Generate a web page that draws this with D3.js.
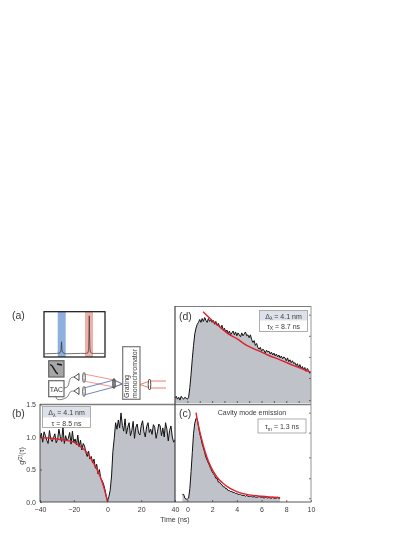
<!DOCTYPE html>
<html>
<head>
<meta charset="utf-8">
<script src="https://cdn.jsdelivr.net/npm/d3@7"></script>
<style>
  html, body { margin: 0; padding: 0; background: #fff; }
  svg { display: block; filter: blur(0.35px); }
  text { font-family: "Liberation Sans", Arial, sans-serif; fill: #3a3a3a; }
</style>
</head>
<body>
<div id="chart"></div>
<script>
/* main.js */

const width = 415;
const height = 537;

// Panel (b): g2 values every 0.8 ns from -40 ns
const bStep = 0.8;
const bValues = [
  .99,1.06,.92,1.08,1.02,.95,.90,1.10,.97,.93,.99,1.05,.91,.96,1.12,1.01,.93,1.16,.90,1.02,
  .94,.98,1.07,.89,1.09,.92,.97,.88,1.03,.85,.95,.80,.90,.86,.76,.70,.78,.66,.70,.60,
  .66,.52,.58,.43,.50,.36,.33,.28,.20,.10,.02,
  .08,.18,.40,.78,.98,1.22,1.12,1.26,1.14,1.37,1.18,1.09,1.28,1.05,1.15,1.22,1.02,1.10,1.24,.98,
  1.15,1.20,1.06,1.03,1.18,1.25,1.08,1.00,1.16,1.22,1.07,1.12,1.04,1.19,1.15,.98,1.08,1.20,1.17,1.02,
  1.14,1.00,1.22,1.12,.94,1.10,1.17,1.00,.92,.96
];
const bFitTime = [-40,-35,-30,-25,-20,-16,-12,-9,-6,-4,-2,-1,0];
const bFitValues = [.99,.985,.97,.95,.92,.85,.76,.63,.49,.37,.21,.11,0];
const bTicks = [-40,-20,0,20,40];
const bYTicks = [0,0.5,1,1.5];

// Panel (d): normalised counts every 0.1 ns from -1 ns
const dStep = 0.1;
const dValues = [
  .05,.07,.04,.06,.03,.07,.05,.04,.06,.05,.04,.06,
  .16,.30,.46,.60,.72,.78,.82,.84,
  .87,.84,.88,.85,.89,.86,.84,.88,.85,.87,.84,.86,.82,.85,.81,.83,.80,.78,.81,.76,
  .78,.74,.76,.72,.75,.71,.73,.75,.71,.74,.70,.73,.71,.69,.73,.70,.72,.74,.70,.71,
  .68,.71,.66,.63,.65,.60,.62,.58,.56,.58,.54,.56,.55,.52,.55,.53,.54,.51,.53,.50,
  .52,.49,.51,.48,.50,.47,.49,.46,.48,.47,.44,.47,.43,.45,.42,.44,.41,.42,.39,.41,
  .37,.40,.36,.38,.35,.37,.33,.36,.34,.31,.33
];
const dFitTime = [1.27,2.0,2.64,3.3,4.0,4.8,5.63,6.5,7.5,8.6,10];
const dFitValues = [.95,.86,.79,.72,.67,.60,.55,.50,.45,.39,.32];
const dRightTicks = [.03,.26,.48,.7,.92];

// Panel (c): normalised counts every 0.1 ns from -0.4 ns
const cStep = 0.1;
const cValues = [
  .08,.08,.04,.03,.03,.04,.14,.32,.52,.72,.83,.88,.87,.80,.72,.67,.61,.57,.52,.47,
  .44,.41,.38,.35,.32,.30,.28,.25,.25,.21,.21,.19,.18,.16,.16,.14,.14,.12,.12,.11,
  .11,.10,.10,.09,.09,.08,.08,.08,.07,.07,.07,.06,.07,.06,.06,.06,.06,.05,.06,.05,
  .05,.05,.06,.05,.05,.05,.04,.05,.05,.04,.05,.04,.04,.05,.04,.04,.04,.05,.04,.04
];
const cFitTime = [.7,.9,1.1,1.3,1.57,1.9,2.37,2.9,3.45,4,4.8,6,7.5];
const cFitValues = [.94,.80,.69,.59,.477,.37,.266,.195,.144,.11,.08,.06,.045];
const cRightTicks = [.04,.25,.47,.73,.94];
const rightTicks = [0,2,4,6,8,10];
const rightMinorTicks = [0,1,2,3,4,5,6,7,8,9];

// Panel (a): inset spectrum
const specX = [0,20,25,27,28,29,31,35,60,70,73,74,75,76,77,80,100];
const specY = [.03,.04,.05,.10,.33,.10,.05,.03,.04,.04,.06,.15,.98,.20,.07,.04,.04];

const fillGray = "#bfc3c9";
const redLine = "#e0202c";

const svg = d3.select("#chart").append("svg")
  .attr("width", width)
  .attr("height", height);

/************************************************
 * Scales                                       *
 ************************************************/
const xB = d3.scaleLinear().domain([-40, 40]).range([40, 175]);
const yB = d3.scaleLinear().domain([0, 1.5]).range([502, 404.5]);
const xR = d3.scaleLinear().domain([-1, 10]).range([175, 311]);
const yD = d3.scaleLinear().domain([0, 1]).range([403, 307]);
const yC = d3.scaleLinear().domain([0, 1]).range([502, 407]);

function clipFor(id, x, y, w, h) {
  svg.append("clipPath").attr("id", id)
    .append("rect").attr("x", x).attr("y", y).attr("width", w).attr("height", h);
}
clipFor("clipB", 40, 404, 135, 98);
clipFor("clipD", 175, 306, 136, 97);
clipFor("clipC", 175, 404, 136, 98);

/************************************************
 * Draw one trace with its fill and its fit     *
 ************************************************/
function drawTrace(clipId, x, y, t0, step, values, fitTime, fitValues) {
  const pts = values.map((v, i) => [t0 + i * step, v]);
  const g = svg.append("g").attr("clip-path", `url(#${clipId})`);

  const area = d3.area().x(d => x(d[0])).y0(y(0)).y1(d => y(d[1]));
  const line = d3.line().x(d => x(d[0])).y(d => y(d[1]));

  g.append("path").attr("d", area(pts)).attr("fill", fillGray);
  g.append("path").attr("d", line(pts))
    .attr("fill", "none").attr("stroke", "#111").attr("stroke-width", 1);

  const fit = d3.line().curve(d3.curveMonotoneX).x((d, i) => x(fitTime[i])).y(d => y(d));
  g.append("path").attr("d", fit(fitValues))
    .attr("fill", "none").attr("stroke", redLine).attr("stroke-width", 1.4);
}

drawTrace("clipB", xB, yB, -40, bStep, bValues, bFitTime, bFitValues);
drawTrace("clipD", xR, yD, -1, dStep, dValues, dFitTime, dFitValues);
drawTrace("clipC", xR, yC, -0.4, cStep, cValues, cFitTime, cFitValues);

/************************************************
 * Axes                                         *
 ************************************************/
function styleAxis(g) {
  g.select(".domain").remove();
  g.selectAll("line").attr("stroke", "#333").attr("stroke-width", 0.7);
  g.selectAll("text").style("font-size", "7px").attr("fill", "#444");
}

svg.append("g").attr("transform", "translate(0,502)")
  .call(d3.axisBottom(xB).tickValues(bTicks).tickSizeInner(-2).tickSizeOuter(0).tickPadding(5))
  .call(styleAxis);

svg.append("g").attr("transform", "translate(40,0)")
  .call(d3.axisLeft(yB).tickValues(bYTicks).tickFormat(d3.format(".1f")).tickSizeInner(-2).tickSizeOuter(0).tickPadding(4))
  .call(styleAxis);

svg.append("g").attr("transform", "translate(0,502)")
  .call(d3.axisBottom(xR).tickValues(rightTicks).tickSizeInner(-2).tickSizeOuter(0).tickPadding(5))
  .call(styleAxis);

svg.append("g").attr("transform", "translate(0,403)")
  .call(d3.axisBottom(xR).tickValues(rightMinorTicks).tickFormat("").tickSizeInner(-2).tickSizeOuter(0))
  .call(styleAxis);

svg.append("g").attr("transform", "translate(311,0)")
  .call(d3.axisRight(yD).tickValues(dRightTicks).tickFormat("").tickSizeInner(-2).tickSizeOuter(0))
  .call(styleAxis);

svg.append("g").attr("transform", "translate(311,0)")
  .call(d3.axisRight(yC).tickValues(cRightTicks).tickFormat("").tickSizeInner(-2).tickSizeOuter(0))
  .call(styleAxis);

/************************************************
 * Frames                                       *
 ************************************************/
function rule(x1, y1, x2, y2, color, w) {
  svg.append("line").attr("x1", x1).attr("y1", y1).attr("x2", x2).attr("y2", y2)
    .attr("stroke", color).attr("stroke-width", w);
}
rule(40, 404.5, 311, 404.5, "#7d7d7d", 1.6);
rule(175, 306.5, 311, 306.5, "#7d7d7d", 1.2);
rule(311, 306, 311, 502, "#8a8a8a", 0.9);
rule(175, 306, 175, 502, "#444", 1.2);
rule(40, 404, 40, 502, "#444", 0.9);
rule(40, 502, 311, 502, "#444", 0.9);

/************************************************
 * Legends and labels                           *
 ************************************************/
function legendBox(x, y, w, h1, h2) {
  svg.append("rect").attr("x", x).attr("y", y).attr("width", w).attr("height", h1 + h2)
    .attr("fill", "#fff").attr("stroke", "#999").attr("stroke-width", 0.8);
  if (h1 > 0) {
    svg.append("rect").attr("x", x + 0.5).attr("y", y + 0.5).attr("width", w - 1).attr("height", h1)
      .attr("fill", "#dde1e9");
  }
}

function subText(cx, y, main, sub, rest) {
  const t = svg.append("text").attr("x", cx).attr("y", y)
    .attr("text-anchor", "middle").style("font-size", "7px");
  t.append("tspan").text(main);
  t.append("tspan").attr("dy", 1.5).style("font-size", "5px").text(sub);
  t.append("tspan").attr("dy", -1.5).text(rest);
}

legendBox(42.5, 406.5, 48, 10.5, 10.5);
subText(66.5, 415, "Δ", "λ", " = 4.1 nm");
svg.append("text").attr("x", 66.5).attr("y", 425.5).attr("text-anchor", "middle")
  .style("font-size", "7px").text("τ = 8.5 ns");

legendBox(259.5, 310.5, 48, 9.5, 11.5);
subText(283.5, 318.5, "Δ", "λ", " = 4.1 nm");
subText(283.5, 328.5, "τ", "X", " = 8.7 ns");

legendBox(258, 419, 48, 0, 14);
subText(282, 429, "τ", "m", " = 1.3 ns");

svg.append("text").attr("x", 252).attr("y", 415).attr("text-anchor", "middle")
  .style("font-size", "7px").text("Cavity mode emission");

[["(a)", 12, 319], ["(b)", 12, 417], ["(d)", 179, 320], ["(c)", 179, 417]].forEach(d => {
  svg.append("text").attr("x", d[1]).attr("y", d[2])
    .style("font-size", "10.5px").attr("fill", "#222").text(d[0]);
});

svg.append("text").attr("x", 175).attr("y", 522).attr("text-anchor", "middle")
  .style("font-size", "7px").text("Time (ns)");

const yLabel = svg.append("text").attr("transform", "translate(24,456) rotate(-90)")
  .attr("text-anchor", "middle").style("font-size", "7px");
yLabel.append("tspan").text("g");
yLabel.append("tspan").attr("dy", -2).style("font-size", "5px").text("(2)");
yLabel.append("tspan").attr("dy", 2).text("(τ)");

/************************************************
 * Panel (a): spectrum and setup sketch         *
 ************************************************/
const xS = d3.scaleLinear().domain([0, 100]).range([45, 104]);
const yS = d3.scaleLinear().domain([0, 1]).range([355, 315]);

svg.append("rect").attr("x", 57.7).attr("y", 312).attr("width", 8).attr("height", 45).attr("fill", "#8fb0dc");
svg.append("rect").attr("x", 85).attr("y", 312).attr("width", 8).attr("height", 45).attr("fill", "#eeb0a8");
svg.append("path")
  .attr("d", d3.line().x((d, i) => xS(specX[i])).y(d => yS(d))(specY))
  .attr("fill", "none").attr("stroke", "#333").attr("stroke-width", 0.7);
svg.append("rect").attr("x", 44).attr("y", 311.7).attr("width", 61).attr("height", 45.3)
  .attr("fill", "none").attr("stroke", "#111").attr("stroke-width", 1.2);

// detector trace box and TAC box
svg.append("rect").attr("x", 48.7).attr("y", 360.7).attr("width", 15.3).attr("height", 16.3)
  .attr("fill", "#a6a6a6").attr("stroke", "#666").attr("stroke-width", 1.2);
svg.append("path").attr("d", "M50,365 C53,364 54,372 58,374 M57,364 L62,365")
  .attr("fill", "none").attr("stroke", "#111").attr("stroke-width", 1.3);
svg.append("rect").attr("x", 48.7).attr("y", 380.7).attr("width", 15.3).attr("height", 16)
  .attr("fill", "#fff").attr("stroke", "#666").attr("stroke-width", 1.2);
svg.append("text").attr("x", 56.4).attr("y", 391.5).attr("text-anchor", "middle")
  .style("font-size", "7px").text("TAC");

// fibres
svg.append("path").attr("d", "M64,388 C72,388 66,377 74,377")
  .attr("fill", "none").attr("stroke", "#444").attr("stroke-width", 0.7);
svg.append("path").attr("d", "M56,397 C56,402 66,399 68,396 C70,392 70,391 74,391")
  .attr("fill", "none").attr("stroke", "#444").attr("stroke-width", 0.7);

// beams
[[84, 374, 114, 380, 122.5, 384], [84, 381, 114, 387, 122.5, 384]].forEach(d => {
  svg.append("polyline").attr("points", `${d[0]},${d[1]} ${d[2]},${d[3]} ${d[4]},${d[5]}`)
    .attr("fill", "none").attr("stroke", "#e8806c").attr("stroke-width", 0.8);
});
[[84, 388, 114, 380, 122.5, 384], [84, 395, 114, 387, 122.5, 384]].forEach(d => {
  svg.append("polyline").attr("points", `${d[0]},${d[1]} ${d[2]},${d[3]} ${d[4]},${d[5]}`)
    .attr("fill", "none").attr("stroke", "#4a68b4").attr("stroke-width", 0.8);
});
svg.append("polyline").attr("points", "166,381 150,381 140,384.5 150,388 166,388")
  .attr("fill", "none").attr("stroke", "#e8806c").attr("stroke-width", 1);

// couplers and lenses
[[77, 377], [77, 391]].forEach(d => {
  svg.append("path").attr("d", `M${d[0] - 3},${d[1]} L${d[0] + 2},${d[1] - 3.5} L${d[0] + 2},${d[1] + 3.5} Z`)
    .attr("fill", "#fff").attr("stroke", "#222").attr("stroke-width", 0.8);
});
[[84, 377.5, 5], [84, 391.5, 5], [114, 383.5, 5], [149.5, 384.5, 5.5]].forEach(d => {
  svg.append("ellipse").attr("cx", d[0]).attr("cy", d[1]).attr("rx", 1.3).attr("ry", d[2])
    .attr("fill", d[0] === 114 ? "#999" : "#fff").attr("stroke", "#222").attr("stroke-width", 0.8);
});

// monochromator
svg.append("rect").attr("x", 122.7).attr("y", 346.7).attr("width", 17.3).attr("height", 52.6)
  .attr("fill", "#fff").attr("stroke", "#777").attr("stroke-width", 1.2);
const mono = svg.append("text").attr("transform", "translate(130,398) rotate(-90)")
  .style("font-size", "7px");
mono.append("tspan").attr("x", 0).attr("dy", -1).text("Grating");
mono.append("tspan").attr("x", 0).attr("dy", 7.5).text("monochromator");
</script>
</body>
</html>
